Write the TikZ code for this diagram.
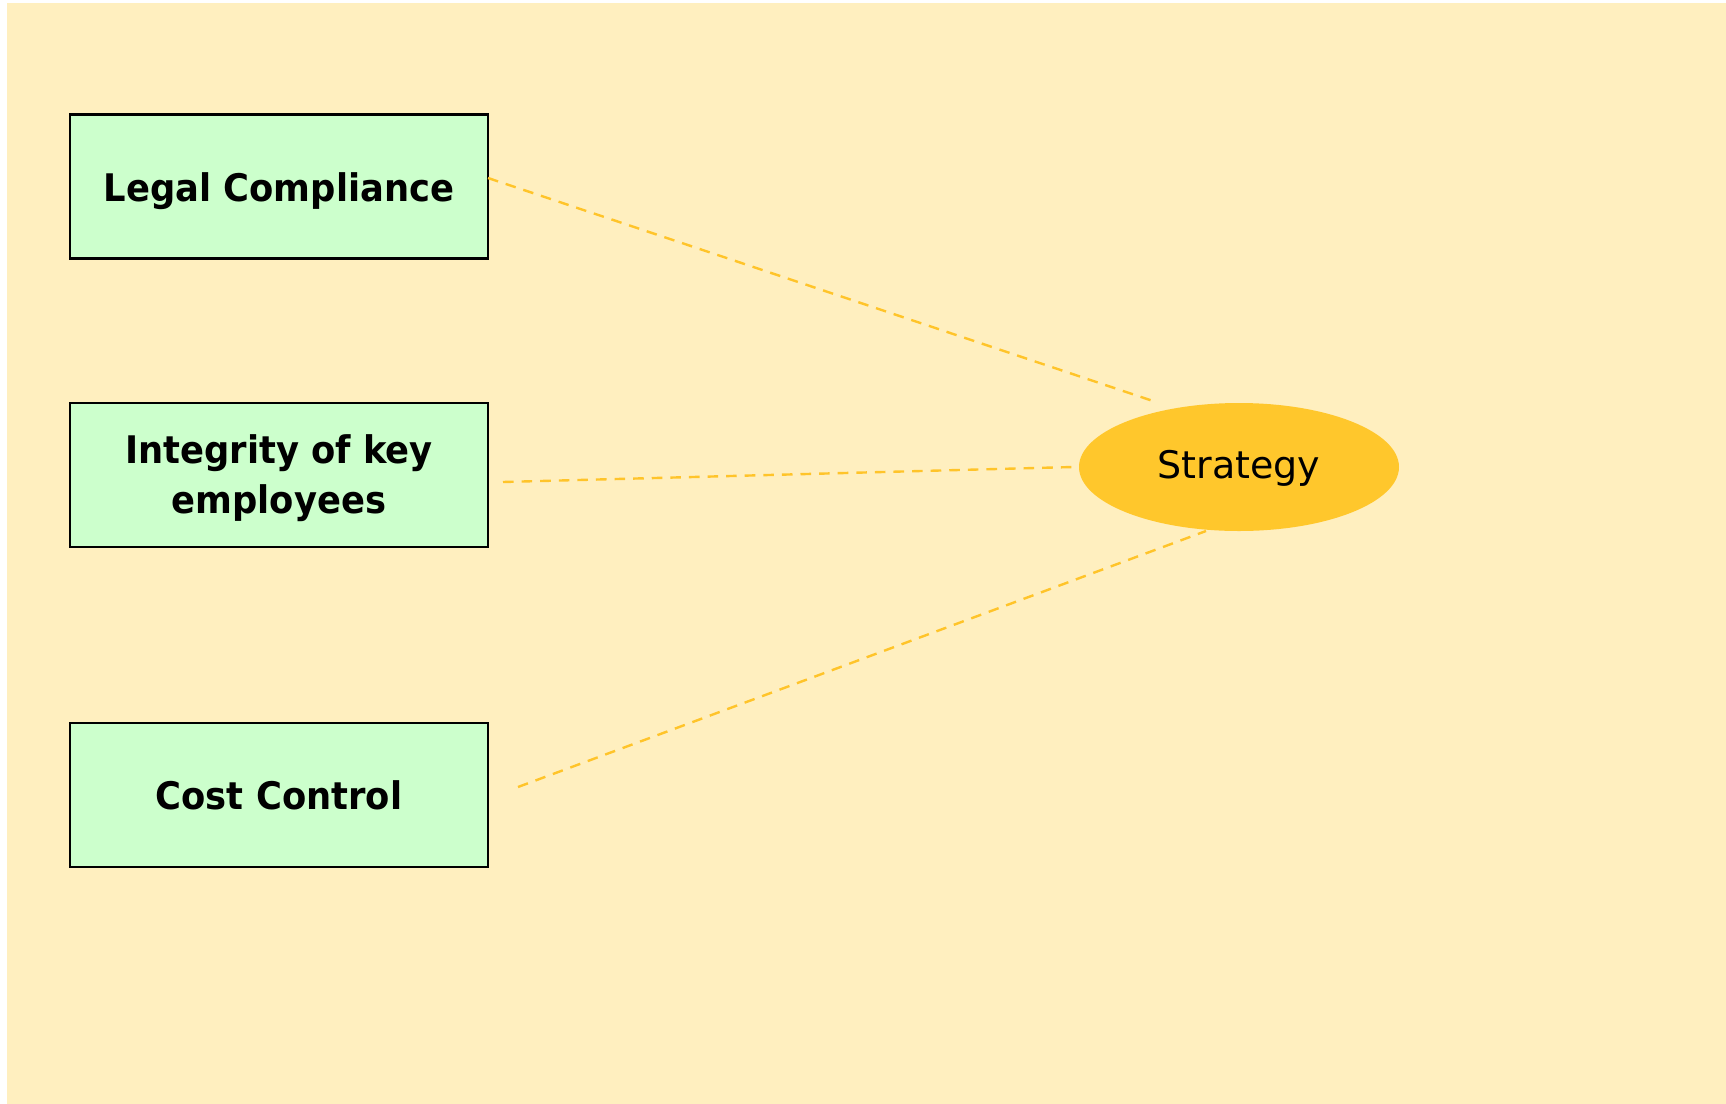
\documentclass[tikz,border=0pt]{standalone}
\usepackage{fontspec}
\setmainfont{DejaVu Sans}[BoldFeatures={FakeStretch=0.93}]
\usetikzlibrary{shapes.geometric}
\definecolor{bgc}{HTML}{FFEFBF}
\definecolor{boxc}{HTML}{CCFFCC}
\definecolor{ellc}{HTML}{FFC72C}
\definecolor{linec}{HTML}{FFC42A}
\newcommand\nudgetext[2]{\raisebox{#1}[\height][\depth]{#2}}
\tikzset{
  factor/.style={draw=black, line width=1.4pt, fill=boxc, minimum width=209pt, minimum height=72pt,
    inner sep=0pt, align=center, font=\fontsize{19}{25}\selectfont\bfseries},
  hub/.style={ellipse, fill=ellc, minimum width=160pt, minimum height=64pt, inner sep=0pt,
    font=\fontsize{19}{25}\selectfont},
  link/.style={draw=linec, line width=1.2pt, dash pattern=on 5.3pt off 4pt}
}
\begin{document}
\begin{tikzpicture}[x=0.5pt, y=-0.5pt]
\useasboundingbox (0,0) rectangle (1726,1104);
\fill[bgc] (7,3) rectangle (1726,1104);
\node[factor] (legal) at (279,186.5) {\nudgetext{-2.2pt}{Legal Compliance}};
\node[factor] (integ) at (279,475) {\nudgetext{-1.7pt}{\begin{tabular}{@{}c@{}}Integrity of key\\employees\end{tabular}}};
\node[factor] (cost) at (279,795) {Cost Control};
\node[hub] (strat) at (1239,467) {\nudgetext{-0.5pt}{Strategy}};
\coordinate (a1) at (488,178);
\coordinate (b1) at (1153,401);
\coordinate (a2) at (503,482);
\coordinate (b2) at (1073,467);
\coordinate (a3) at (518,787);
\coordinate (b3) at (1206,531);
\draw[link] (a1) -- (b1);
\draw[link] (a2) -- (b2);
\draw[link] (a3) -- (b3);
\end{tikzpicture}
\end{document}
